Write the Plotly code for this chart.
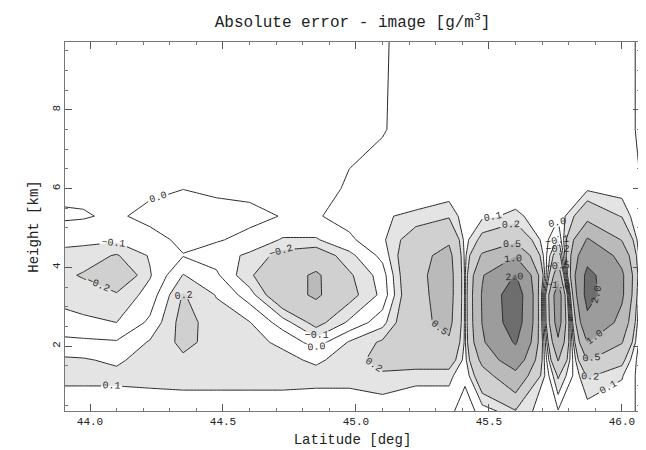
import numpy as np
import plotly.graph_objects as go

# ---------------- data ----------------
LATITUDE = [43.85, 43.975, 44.1, 44.225, 44.35, 44.475, 44.6, 44.725, 44.85, 44.975,
            45.1, 45.225, 45.35, 45.41, 45.475, 45.6, 45.76, 45.87, 46.0, 46.1]
HEIGHT_KM = [0.3, 1.25, 1.65, 2.1, 2.6, 3.3, 3.8, 4.3, 4.7, 5.3, 6.0, 7.5, 9.8]

# absolute error [g/m3], one column per latitude, listed bottom -> top
ERR_4385 = [0.02, 0.13, 0.12, 0.03, -0.06, -0.12, -0.16, -0.13, -0.06, 0.02, -0.03, -0.03, -0.02]
ERR_4398 = [0.02, 0.13, 0.11, 0.02, -0.08, -0.15, -0.21, -0.15, -0.07, 0.01, -0.03, -0.03, -0.02]
ERR_4410 = [0.02, 0.13, 0.08, 0.01, -0.10, -0.18, -0.35, -0.21, -0.08, -0.02, -0.03, -0.03, -0.02]
ERR_4423 = [0.02, 0.14, 0.15, 0.11, 0.02, -0.06, -0.11, -0.09, -0.05, 0.04, -0.03, -0.03, -0.02]
ERR_4435 = [0.02, 0.15, 0.18, 0.23, 0.25, 0.21, 0.105, -0.005, 0.03, 0.06, -0.002, -0.03, -0.02]
ERR_4448 = [0.02, 0.15, 0.16, 0.16, 0.14, 0.095, 0.02, -0.05, 0.01, 0.05, -0.025, -0.03, -0.02]
ERR_4460 = [0.02, 0.15, 0.15, 0.13, 0.105, -0.05, -0.18, -0.12, -0.03, 0.03, -0.03, -0.03, -0.02]
ERR_4473 = [0.02, 0.15, 0.13, 0.08, -0.05, -0.35, -0.35, -0.25, -0.11, -0.005, -0.03, -0.03, -0.02]
ERR_4485 = [0.02, 0.14, 0.08, -0.05, -0.25, -0.55, -0.55, -0.30, -0.11, -0.01, -0.03, -0.03, -0.02]
ERR_4498 = [0.02, 0.14, 0.15, 0.11, -0.08, -0.25, -0.22, -0.13, -0.02, 0.04, 0.01, -0.02, -0.02]
ERR_4510 = [0.02, 0.18, 0.25, 0.22, 0.06, -0.07, -0.05, 0.03, 0.08, 0.09, 0.02, -0.003, -0.005]
ERR_4523 = [0.02, 0.13, 0.30, 0.35, 0.40, 0.40, 0.42, 0.40, 0.30, 0.12, 0.03, 0.02, 0.02]
ERR_4535 = [0.02, 0.13, 0.30, 0.45, 0.60, 0.65, 0.65, 0.60, 0.45, 0.18, 0.03, 0.02, 0.02]
ERR_4541 = [-0.05, 0.02, 0.06, 0.08, 0.08, 0.08, 0.08, 0.07, 0.06, 0.04, 0.03, 0.02, 0.02]
ERR_4548 = [0.03, 0.35, 0.60, 0.90, 1.02, 1.05, 0.95, 0.55, 0.25, 0.08, 0.03, 0.02, 0.02]
ERR_4560 = [0.15, 0.80, 1.40, 2.10, 2.60, 2.70, 2.05, 0.95, 0.40, 0.12, 0.04, 0.02, 0.02]
ERR_4576 = [0.02, -0.22, -0.52, -0.90, -1.30, -1.40, -0.80, -0.35, -0.12, 0.02, 0.03, 0.02, 0.02]
ERR_4587 = [0.03, 0.22, 0.52, 1.02, 1.70, 2.40, 2.30, 1.60, 1.05, 0.35, 0.08, 0.02, 0.02]
ERR_4600 = [0.02, 0.11, 0.25, 0.52, 0.80, 1.10, 1.10, 0.80, 0.48, 0.19, 0.05, 0.02, 0.02]
ERR_4610 = [-0.02, -0.11, -0.21, -0.30, -0.40, -0.48, -0.40, -0.30, -0.19, -0.09, -0.02, -0.02, -0.02]

LEVELS = [-2.0, -1.0, -0.5, -0.2, -0.1, 0.0, 0.1, 0.2, 0.5, 1.0, 2.0]
X_TICKS = [44.0, 44.5, 45.0, 45.5, 46.0]
X_TICK_TEXT = ["44.0", "44.5", "45.0", "45.5", "46.0"]
Y_TICKS = [2, 4, 6, 8]

# ---------------- build grid ----------------
columns = [ERR_4385, ERR_4398, ERR_4410, ERR_4423, ERR_4435, ERR_4448, ERR_4460,
           ERR_4473, ERR_4485, ERR_4498, ERR_4510, ERR_4523, ERR_4535, ERR_4541,
           ERR_4548, ERR_4560, ERR_4576, ERR_4587, ERR_4600, ERR_4610]
Z = np.array(columns).T.tolist()

# shading by |error| band (symmetric grey steps)
GREYS = ["#ffffff", "#e4e4e4", "#d0d0d0", "#bababa", "#9c9c9c", "#6e6e6e"]
START, END, SIZE = -3.0, 3.0, 0.1
lo, hi = START - SIZE, END


def frac(v):
    return (v - lo) / (hi - lo)


steps = [(lo, GREYS[5]), (-2.0, GREYS[4]), (-1.0, GREYS[3]), (-0.5, GREYS[2]),
         (-0.2, GREYS[1]), (-0.1, GREYS[0]), (0.1, GREYS[1]), (0.2, GREYS[2]),
         (0.5, GREYS[3]), (1.0, GREYS[4]), (2.0, GREYS[5])]
colorscale = []
for i, (v, c) in enumerate(steps):
    v_next = steps[i + 1][0] if i + 1 < len(steps) else hi
    colorscale.append([frac(v), c])
    colorscale.append([frac(v_next), c])
colorscale[0][0] = 0.0
colorscale[-1][0] = 1.0

MONO = "Liberation Mono"
INK = "#2a2a2a"

fig = go.Figure()
fig.add_trace(go.Contour(
    x=LATITUDE, y=HEIGHT_KM, z=Z,
    contours=dict(start=START, end=END, size=SIZE, coloring="fill", showlines=False),
    line=dict(width=0, smoothing=0),
    colorscale=colorscale, showscale=False, hoverinfo="skip",
))

for lev in LEVELS:
    fig.add_trace(go.Contour(
        x=LATITUDE, y=HEIGHT_KM, z=Z,
        contours=dict(start=lev, end=lev, size=1, coloring="lines",
                      showlabels=True, labelformat=".1f",
                      labelfont=dict(family=MONO, size=10, color=INK)),
        colorscale=[[0, INK], [1, INK]],
        line=dict(width=1, smoothing=0),
        showscale=False, hoverinfo="skip",
    ))

axis_common = dict(
    ticks="inside", ticklen=7, tickwidth=1, tickcolor="#555555",
    showline=True, linecolor="#777777", linewidth=1, mirror="allticks",
    showgrid=False, zeroline=False,
    tickfont=dict(family=MONO, size=11, color="#222222"),
)

fig.update_layout(
    width=646, height=450,
    margin=dict(l=57, r=14, t=34, b=47),
    paper_bgcolor="white", plot_bgcolor="white",
    showlegend=False,
    title=dict(text="Absolute error - image [g/m<sup>3</sup>]",
               x=0.5, xref="paper", xanchor="center",
               y=0.97, yref="container", yanchor="middle",
               font=dict(family=MONO, size=16, color="#222222")),
    xaxis=dict(range=[43.906, 46.068], tickvals=X_TICKS, ticktext=X_TICK_TEXT,
               minor=dict(ticks="inside", ticklen=3, dtick=0.1, tickcolor="#777777"),
               title=dict(text="Latitude [deg]", standoff=6,
                          font=dict(family=MONO, size=14, color="#222222")),
               **axis_common),
    yaxis=dict(range=[0.355, 9.72], tickvals=Y_TICKS, tickangle=-90,
               minor=dict(ticks="inside", ticklen=3, dtick=0.5, tickcolor="#777777"),
               title=dict(text="Height [km]", standoff=8,
                          font=dict(family=MONO, size=14, color="#222222")),
               **axis_common),
)

fig.write_html("out.html")
